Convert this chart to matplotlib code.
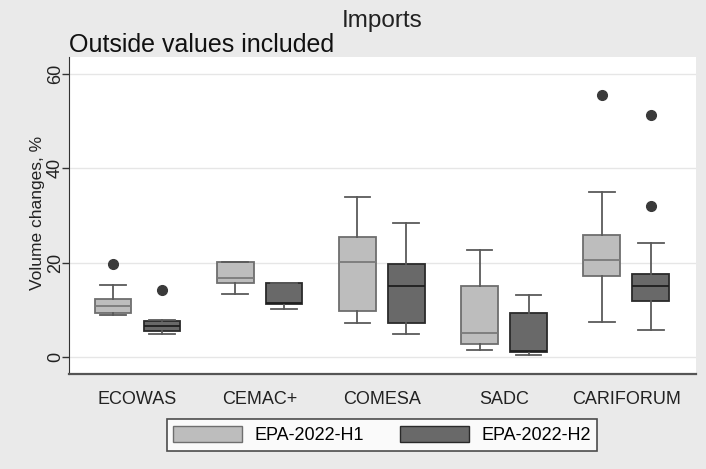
import matplotlib.pyplot as plt
from matplotlib.patches import Patch

plt.rcParams['font.family'] = ['Liberation Sans', 'DejaVu Sans']

groups = ['ECOWAS', 'CEMAC+', 'COMESA', 'SADC', 'CARIFORUM']
series = ['EPA-2022-H1', 'EPA-2022-H2']

# box statistics (volume changes, %)
h1_whislo = [9.0, 13.3, 7.1, 1.5, 7.5]
h1_q1 = [9.3, 15.6, 9.7, 2.8, 17.1]
h1_med = [10.9, 16.7, 20.1, 5.1, 20.6]
h1_q3 = [12.2, 20.2, 25.5, 15.0, 25.9]
h1_whishi = [15.2, 20.2, 33.9, 22.7, 35.0]
h1_fliers = [[19.7], [], [], [], [55.5]]

h2_whislo = [4.9, 10.1, 4.9, 0.4, 5.8]
h2_q1 = [5.6, 11.3, 7.3, 1.1, 11.8]
h2_med = [6.6, 11.5, 15.0, 1.3, 15.0]
h2_q3 = [7.7, 15.6, 19.7, 9.4, 17.6]
h2_whishi = [7.9, 15.6, 28.5, 13.1, 24.2]
h2_fliers = [[14.1], [], [], [], [32.0, 51.3]]

light = '#bdbdbd'
dark = '#696969'


def make_stats(lo, q1, med, q3, hi, fl):
    return [dict(whislo=a, q1=b, med=c, q3=d, whishi=e, fliers=f)
            for a, b, c, d, e, f in zip(lo, q1, med, q3, hi, fl)]


fig = plt.figure(figsize=(7.06, 4.69), dpi=100, facecolor='#eaeaea')
ax = fig.add_axes([0.0977, 0.2026, 0.888, 0.676])
ax.set_facecolor('white')

pos = list(range(len(groups)))
off = 0.2
w = 0.30

for st, shift, fc, ec, mc in [
        (make_stats(h1_whislo, h1_q1, h1_med, h1_q3, h1_whishi, h1_fliers), -off, light, '#6e6e6e', '#7a7a7a'),
        (make_stats(h2_whislo, h2_q1, h2_med, h2_q3, h2_whishi, h2_fliers), off, dark, '#2a2a2a', '#1e1e1e')]:
    ax.bxp(st, positions=[p + shift for p in pos], widths=w, capwidths=0.21,
           patch_artist=True, showfliers=True,
           boxprops=dict(facecolor=fc, edgecolor=ec, linewidth=1.3),
           medianprops=dict(color=mc, linewidth=1.3),
           whiskerprops=dict(color='#5a5a5a', linewidth=1.3),
           capprops=dict(color='#5a5a5a', linewidth=1.3),
           flierprops=dict(marker='o', markerfacecolor='#3a3a3a', markeredgecolor='#3a3a3a',
                           markersize=7))

ax.set_xlim(-0.561, 4.57)
ax.set_ylim(-3.6, 63.6)
ax.set_xticks(pos)
ax.set_xticklabels(groups, fontsize=13, color='#222222')
ax.tick_params(axis='x', length=0, pad=12)
ax.set_yticks([0, 20, 40, 60])
ax.set_yticklabels(['0', '20', '40', '60'], rotation=90, va='center', fontsize=13, color='#222222')
ax.tick_params(axis='y', length=5, width=1, color='#333333', pad=-1.5)
ax.grid(True, axis='y', color='#e6e6e6', linewidth=1)
ax.set_axisbelow(True)
for s in ['top', 'right']:
    ax.spines[s].set_visible(False)
ax.spines['left'].set_color('#333333')
ax.spines['bottom'].set_color('#555555')
ax.spines['bottom'].set_linewidth(1.6)

ax.set_ylabel('Volume changes, %', fontsize=12.5, color='#222222')
ax.yaxis.set_label_coords(-0.039, 0.508)

fig.text(0.541, 0.942, 'Imports', ha='center', va='baseline', fontsize=17.5, color='#222222')
fig.text(0.0977, 0.889, 'Outside values included', ha='left', va='baseline', fontsize=18, color='#111111')

handles = [Patch(facecolor=light, edgecolor='#6e6e6e', label=series[0]),
           Patch(facecolor=dark, edgecolor='#2a2a2a', label=series[1])]
leg = fig.legend(handles=handles, loc='center', bbox_to_anchor=(0.5415, 0.0725), ncol=2,
                 fontsize=13, frameon=True, fancybox=False, edgecolor='#222222',
                 handlelength=3.8, handleheight=1.05, handletextpad=0.7, columnspacing=2.0,
                 borderpad=0.35)
leg.get_frame().set_linewidth(1.2)

fig.savefig('out.png', dpi=100, facecolor=fig.get_facecolor())
